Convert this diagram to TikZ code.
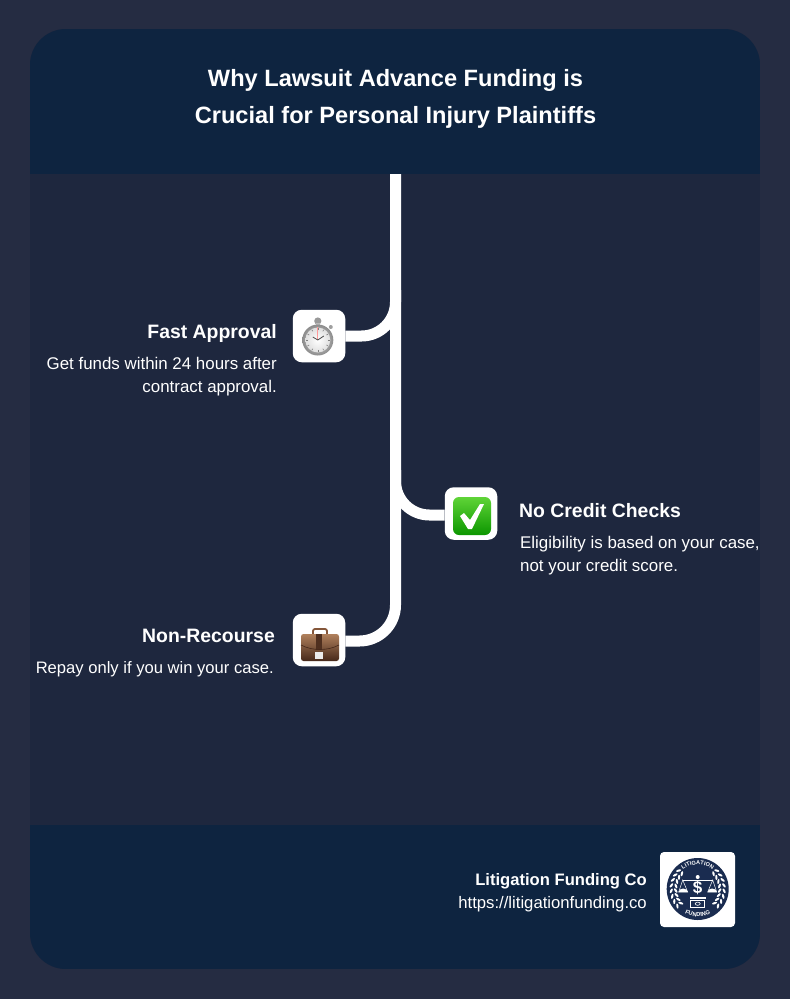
\documentclass[tikz,border=0pt]{standalone}
\usepackage{fontspec}
\setmainfont{Liberation Sans}
\usetikzlibrary{decorations.text}
\definecolor{pagecol}{RGB}{37,44,66}
\definecolor{bandcol}{RGB}{14,36,64}
\definecolor{cardcol}{RGB}{30,39,62}
\definecolor{navycol}{RGB}{26,44,80}
\definecolor{greentop}{RGB}{95,212,55}
\definecolor{greenmid}{RGB}{22,176,6}
\definecolor{greenlow}{RGB}{12,150,0}
\definecolor{casetop}{RGB}{176,128,92}
\definecolor{casemid}{RGB}{132,86,58}
\definecolor{caselow}{RGB}{70,40,26}
\tikzset{
  iconbox/.style={fill=white,rounded corners=9pt,minimum size=52.5pt,inner sep=0pt},
  link/.style={draw=white,line width=11pt,rounded corners=#1},
  heading/.style={text=white,font=\bfseries\fontsize{19.4}{24}\selectfont,inner sep=0pt},
  bodytext/.style={text=white,font=\fontsize{16.9}{23}\selectfont,inner sep=0pt}
}
\newcommand{\drawstopwatch}[2]{
  \begin{scope}[shift={(#1,#2)}]
    \fill[gray!80] (0,-19) circle (3.6);
    \fill[gray!55] (-2,-17) rectangle (2,-14);
    \fill[gray!75] (13,-13) circle (2);
    \shade[outer color=gray!90,inner color=gray!30] (0,0) circle (15.5);
    \shade[inner color=white,outer color=gray!25] (0,0) circle (12.5);
    \foreach \a in {0,30,...,330}{
      \draw[gray,line width=.6pt] (\a:10) -- (\a:11.8);
    }
    \draw[red!40,line width=1.2pt] (0,0) -- (0,-13);
    \draw[black!70,line width=.8pt] (-5,-3) -- (0,0) -- (6,-4);
  \end{scope}
}
\newcommand{\drawcheckmark}[2]{
  \begin{scope}[shift={(#1,#2)}]
    \shade[top color=greentop,middle color=greenmid,bottom color=greenlow,rounded corners=6pt] (-19,-19) rectangle (19,19);
    \fill[white] (-12,0) -- (-8,-3) -- (-2,4) -- (8,-12) -- (12,-12) -- (0,13) -- (-4,13) -- cycle;
  \end{scope}
}
\newcommand{\drawbriefcase}[2]{
  \begin{scope}[shift={(#1,#2)}]
    \draw[casemid,line width=1.8pt,rounded corners=2pt] (-7,-6) -- (-7,-11) -- (7,-11) -- (7,-6);
    \shade[top color=casetop,middle color=casemid,bottom color=caselow,rounded corners=2.5pt] (-19,-6) rectangle (19,21);
    \fill[caselow!85!casemid] (-4,-6) rectangle (2,10);
    \draw[caselow,line width=.6pt] (-19,5) .. controls (-8,11) and (8,11) .. (19,5);
    \fill[gray!15] (-5,12) rectangle (3,19);
  \end{scope}
}
\newcommand{\drawlogo}[2]{
  \begin{scope}[shift={(#1,#2)}]
    \fill[navycol] (0,0) circle (31);
    \foreach \a in {140,152,...,224}{
      \fill[white,shift={(\a:26.5)},rotate=60-\a] (0,0) ellipse (2.6 and 1.1);
      \fill[white,shift={(\a:22)},rotate=120-\a] (0,0) ellipse (2.6 and 1.1);
      \fill[white,shift={(180-\a:26.5)},rotate=\a-60] (0,0) ellipse (2.6 and 1.1);
      \fill[white,shift={(180-\a:22)},rotate=\a-120] (0,0) ellipse (2.6 and 1.1);
    }
    \draw[white,line width=1pt] (-15,-9) -- (15,-9);
    \draw[white,line width=.5pt] (-15,-9) -- (-19,3) -- (-10,3) -- cycle (15,-9) -- (19,3) -- (10,3) -- cycle;
    \fill[white] (-19,3) arc[start angle=180,end angle=0,x radius=4.5,y radius=-3.5];
    \fill[white] (10,3) arc[start angle=180,end angle=0,x radius=4.5,y radius=-3.5];
    \fill[white] (0,-12) circle (2);
    \node[text=white,font=\bfseries\fontsize{17}{17}\selectfont,inner sep=0pt] (logodollar) at (0,-1.5) {\$};
    \fill[white] (-8,8) rectangle (8,10);
    \draw[white,line width=.8pt] (-7,11.5) rectangle (7,18);
    \draw[white,line width=.6pt] (0,14.7) ellipse (2.5 and 1.6);
    \path[decorate,decoration={text along path,text align=center,text color=white,
      text={|\bfseries\fontsize{5.6}{5.6}\selectfont|LITIGATION}}]
      (-24.5,0) arc[start angle=180,end angle=360,radius=24.5];
    \path[decorate,decoration={text along path,text align=center,text color=white,
      text={|\bfseries\fontsize{5.8}{5.8}\selectfont|FUNDING}}]
      (-27.5,0) arc[start angle=180,end angle=0,radius=27.5];
  \end{scope}
}

\begin{document}
\begin{tikzpicture}[x=1pt,y=-1pt]
  \fill[pagecol] (0,0) rectangle (790,999);
  \begin{scope}
    \clip[rounded corners=36pt] (30,29) rectangle (760,969);
    \fill[cardcol] (30,29) rectangle (760,969);
    \fill[bandcol] (30,29) rectangle (760,174);
    \fill[bandcol] (30,825) rectangle (760,969);
  \end{scope}

  \node[text=white,font=\bfseries\fontsize{23.6}{36.5}\selectfont,align=center,inner sep=0pt] (title) at (395.5,99)
    {Why Lawsuit Advance Funding is\\Crucial for Personal Injury Plaintiffs};

  \node[iconbox] (iconone) at (319,336) {};
  \node[iconbox] (icontwo) at (471,513.5) {};
  \node[iconbox] (iconthree) at (319,640) {};

  \coordinate (spinetop) at (395.5,174);
  \coordinate (bendone) at (395.5,290);
  \coordinate (bendtwo) at (395.5,470);
  \draw[link=34pt] (bendone) |- (iconone.east);
  \draw[link=34pt] (bendtwo) |- (icontwo.west |- 395.5,515);
  \draw[link=36pt] (spinetop) |- (iconthree.east |- 395.5,641);

  \drawstopwatch{317.8}{340}
  \drawcheckmark{472}{516}
  \drawbriefcase{320}{640}

  \node[heading,anchor=base east] (fastapproval) at (277,338) {Fast Approval};
  \node[bodytext,align=right,anchor=north east] (fasttext) at (277,357) {Get funds within 24 hours after\\contract approval.};

  \node[heading,anchor=base west] (nocredit) at (519,517) {No Credit Checks};
  \node[bodytext,align=left,anchor=north west] (credittext) at (520,536) {Eligibility is based on your case,\\not your credit score.};

  \node[heading,anchor=base east] (nonrecourse) at (275,642) {Non-Recourse};
  \node[bodytext,font=\fontsize{16.6}{23}\selectfont,align=right,anchor=north east] (recoursetext) at (274,661) {Repay only if you win your case.};

  \node[text=white,font=\bfseries\fontsize{16.6}{23}\selectfont,anchor=base east,inner sep=0pt] (brandname) at (647,885) {Litigation Funding Co};
  \node[text=white,font=\fontsize{16.7}{23}\selectfont,anchor=base east,inner sep=0pt] (brandurl) at (647,908) {https://litigationfunding.co};

  \node[fill=white,rounded corners=4pt,minimum size=75pt,inner sep=0pt] (logobox) at (697.5,889.5) {};
  \drawlogo{697.7}{889}
\end{tikzpicture}
\end{document}
